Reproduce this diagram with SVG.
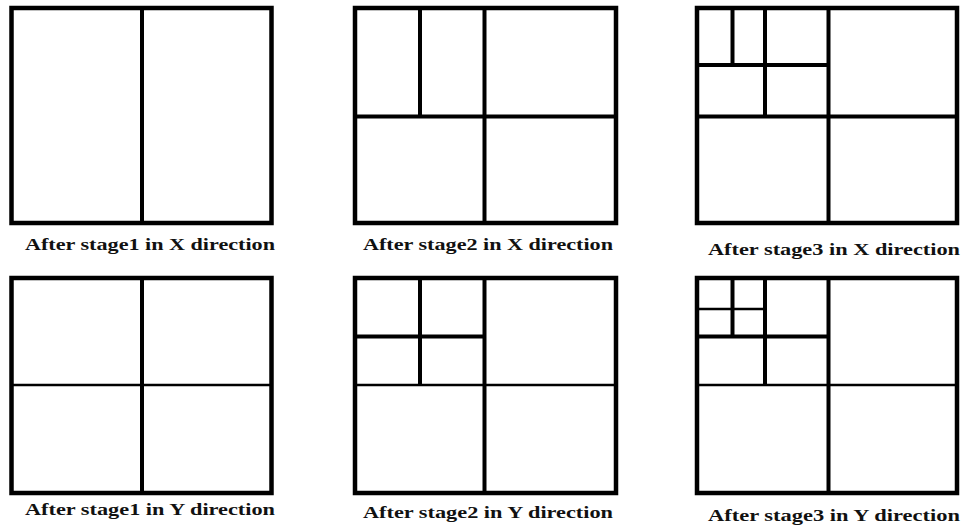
<svg xmlns="http://www.w3.org/2000/svg" width="964" height="525" viewBox="0 0 964 525">
<style>
.o{fill:none;stroke:#000;stroke-width:4.5}
.k{stroke:#000;stroke-width:4}
.t{stroke:#000;stroke-width:2.5}
.l{font-family:"Liberation Serif",serif;font-size:16px;font-weight:bold;fill:#111}
</style>
<rect width="964" height="525" fill="#fff"/>
<g id="p1x">
<rect class="o" x="11.5" y="8" width="260" height="215"/>
<line class="k" x1="142" y1="8" x2="142" y2="223"/>
<text class="l" x="25" y="250" textLength="250" lengthAdjust="spacingAndGlyphs">After stage1 in X direction</text>
</g>
<g id="p2x">
<rect class="o" x="355" y="8" width="261" height="215"/>
<line class="k" x1="484.5" y1="8" x2="484.5" y2="223"/>
<line class="k" x1="355" y1="116.5" x2="616" y2="116.5"/>
<line class="k" x1="420" y1="8" x2="420" y2="116.5"/>
<text class="l" x="363" y="250" textLength="250" lengthAdjust="spacingAndGlyphs">After stage2 in X direction</text>
</g>
<g id="p3x">
<rect class="o" x="697" y="8" width="260" height="215"/>
<line class="k" x1="828.5" y1="8" x2="828.5" y2="223"/>
<line class="k" x1="697" y1="116.5" x2="957" y2="116.5"/>
<line class="k" x1="697" y1="65" x2="828.5" y2="65"/>
<line class="k" x1="765" y1="8" x2="765" y2="116.5"/>
<line class="k" x1="732.5" y1="8" x2="732.5" y2="65"/>
<text class="l" x="708" y="255" textLength="252" lengthAdjust="spacingAndGlyphs">After stage3 in X direction</text>
</g>
<g id="p1y">
<rect class="o" x="11.5" y="278" width="260" height="215"/>
<line class="k" x1="142" y1="278" x2="142" y2="493"/>
<line class="t" x1="11.5" y1="385" x2="271.5" y2="385"/>
<text class="l" x="25" y="515" textLength="250" lengthAdjust="spacingAndGlyphs">After stage1 in Y direction</text>
</g>
<g id="p2y">
<rect class="o" x="355" y="278" width="261" height="215"/>
<line class="k" x1="484.5" y1="278" x2="484.5" y2="493"/>
<line class="t" x1="355" y1="385" x2="616" y2="385"/>
<line class="k" x1="355" y1="336.5" x2="484.5" y2="336.5"/>
<line class="k" x1="420" y1="278" x2="420" y2="385"/>
<text class="l" x="363" y="518" textLength="250" lengthAdjust="spacingAndGlyphs">After stage2 in Y direction</text>
</g>
<g id="p3y">
<rect class="o" x="697" y="278" width="260" height="215"/>
<line class="k" x1="828.5" y1="278" x2="828.5" y2="493"/>
<line class="t" x1="697" y1="385" x2="957" y2="385"/>
<line class="k" x1="697" y1="336.5" x2="828.5" y2="336.5"/>
<line class="k" x1="765" y1="278" x2="765" y2="385"/>
<line class="k" x1="732.5" y1="278" x2="732.5" y2="336.5"/>
<line class="t" x1="697" y1="309" x2="765" y2="309"/>
<text class="l" x="708" y="521" textLength="252" lengthAdjust="spacingAndGlyphs">After stage3 in Y direction</text>
</g>
<g id="connectors"/>
</svg>
